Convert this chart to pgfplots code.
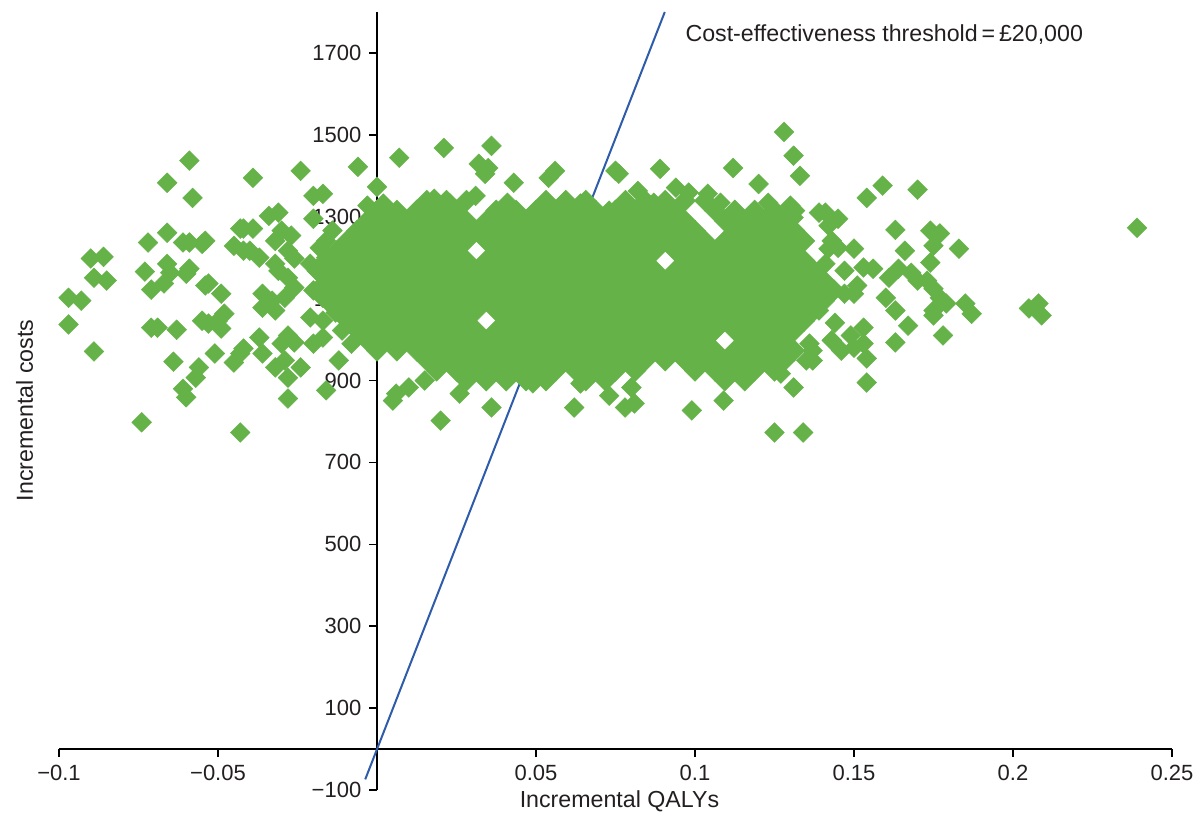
\documentclass[border=0pt]{standalone}
\usepackage{fontspec}
\setmainfont{Liberation Sans}
\usepackage{pgfplots}
\pgfplotsset{compat=1.18}
\definecolor{ptgreen}{RGB}{100,178,72}
\definecolor{lineblue}{RGB}{46,92,170}
\definecolor{txt}{RGB}{35,31,32}
\begin{document}
\fontsize{11bp}{13bp}\selectfont
\begin{tikzpicture}
\begin{axis}[name=ax, scale only axis, width=556.5bp, height=389bp,
 xmin=-0.1, xmax=0.25, ymin=-100, ymax=1800,
 axis lines=middle, axis line style={-, line width=0.8bp, black},
 xtick={-0.1,-0.05,0,0.05,0.1,0.15,0.2,0.25},
 xticklabels={−0.1,−0.05,0,0.05,0.1,0.15,0.2,0.25},
 ytick={-100,100,300,500,700,900,1100,1300,1500,1700},
 yticklabels={−100,100,300,500,700,900,1100,1300,1500,1700},
 tick align=outside, major tick length=4bp, tick style={line width=0.8bp, black},
 ticklabel style={font=\fontsize{11bp}{13bp}\selectfont, text=txt},
 xlabel={Incremental QALYs}, ylabel={Incremental costs},
 xlabel style={at={(axis description cs:0.5036,-0.0231)}, anchor=base, font=\fontsize{11.6bp}{13bp}\selectfont, text=txt},
 ylabel style={at={(axis description cs:-0.0234,0.488)}, anchor=base, rotate=90, font=\fontsize{11.6bp}{13bp}\selectfont, text=txt},
 clip=false]
% dense core, read row by row
\addplot[only marks, mark=square*, mark size=3.75bp, mark options={rotate=45, fill=ptgreen, draw=ptgreen, line width=0.2bp}] coordinates {
(0.015625,1339)(0.021875,1339)(0.028125,1339)(0.053125,1339)(0.059375,1339)(0.065625,1339)(0.078125,1339)(0.084375,1339)(0.090625,1339)(0.096875,1339)(0.103125,1339)
(0,1315)(0.00625,1315)(0.0125,1315)(0.01875,1315)(0.025,1315)(0.0375,1315)(0.04375,1315)(0.05,1315)(0.05625,1315)(0.0625,1315)(0.06875,1315)(0.075,1315)(0.08125,1315)(0.0875,1315)(0.09375,1315)(0.10625,1315)(0.1125,1315)(0.11875,1315)(0.125,1315)(0.13125,1315)
(-0.003125,1290)(0.003125,1290)(0.009375,1290)(0.015625,1290)(0.021875,1290)(0.028125,1290)(0.034375,1290)(0.040625,1290)(0.046875,1290)(0.053125,1290)(0.059375,1290)(0.065625,1290)(0.071875,1290)(0.078125,1290)(0.084375,1290)(0.090625,1290)(0.096875,1290)(0.109375,1290)(0.115625,1290)(0.121875,1290)(0.128125,1290)
(-0.00625,1266)(0,1266)(0.00625,1266)(0.0125,1266)(0.01875,1266)(0.025,1266)(0.03125,1266)(0.0375,1266)(0.04375,1266)(0.05,1266)(0.05625,1266)(0.0625,1266)(0.06875,1266)(0.075,1266)(0.08125,1266)(0.0875,1266)(0.09375,1266)(0.1,1266)(0.1125,1266)(0.11875,1266)(0.125,1266)(0.13125,1266)
(-0.009375,1241)(-0.003125,1241)(0.003125,1241)(0.009375,1241)(0.015625,1241)(0.021875,1241)(0.028125,1241)(0.034375,1241)(0.040625,1241)(0.046875,1241)(0.053125,1241)(0.059375,1241)(0.065625,1241)(0.071875,1241)(0.078125,1241)(0.084375,1241)(0.090625,1241)(0.096875,1241)(0.103125,1241)(0.109375,1241)(0.115625,1241)(0.121875,1241)(0.128125,1241)(0.134375,1241)
(-0.0125,1217)(-0.00625,1217)(0,1217)(0.00625,1217)(0.0125,1217)(0.01875,1217)(0.025,1217)(0.0375,1217)(0.04375,1217)(0.05,1217)(0.05625,1217)(0.0625,1217)(0.06875,1217)(0.075,1217)(0.08125,1217)(0.0875,1217)(0.09375,1217)(0.1,1217)(0.10625,1217)(0.1125,1217)(0.11875,1217)(0.125,1217)(0.13125,1217)
(-0.015625,1193)(-0.009375,1193)(-0.003125,1193)(0.003125,1193)(0.009375,1193)(0.015625,1193)(0.021875,1193)(0.028125,1193)(0.034375,1193)(0.040625,1193)(0.046875,1193)(0.053125,1193)(0.059375,1193)(0.065625,1193)(0.071875,1193)(0.078125,1193)(0.084375,1193)(0.096875,1193)(0.103125,1193)(0.109375,1193)(0.115625,1193)(0.121875,1193)(0.128125,1193)(0.134375,1193)
(-0.01875,1168)(-0.0125,1168)(-0.00625,1168)(0,1168)(0.00625,1168)(0.0125,1168)(0.01875,1168)(0.025,1168)(0.03125,1168)(0.0375,1168)(0.04375,1168)(0.05,1168)(0.05625,1168)(0.0625,1168)(0.06875,1168)(0.075,1168)(0.08125,1168)(0.0875,1168)(0.09375,1168)(0.1,1168)(0.10625,1168)(0.1125,1168)(0.11875,1168)(0.125,1168)(0.13125,1168)(0.1375,1168)
(-0.015625,1144)(-0.009375,1144)(-0.003125,1144)(0.003125,1144)(0.009375,1144)(0.015625,1144)(0.021875,1144)(0.028125,1144)(0.034375,1144)(0.040625,1144)(0.046875,1144)(0.053125,1144)(0.059375,1144)(0.065625,1144)(0.071875,1144)(0.078125,1144)(0.084375,1144)(0.090625,1144)(0.096875,1144)(0.103125,1144)(0.109375,1144)(0.115625,1144)(0.121875,1144)(0.128125,1144)(0.134375,1144)(0.140625,1144)
(-0.01875,1120)(-0.0125,1120)(-0.00625,1120)(0,1120)(0.00625,1120)(0.0125,1120)(0.01875,1120)(0.025,1120)(0.03125,1120)(0.0375,1120)(0.04375,1120)(0.05,1120)(0.05625,1120)(0.0625,1120)(0.06875,1120)(0.075,1120)(0.08125,1120)(0.0875,1120)(0.09375,1120)(0.1,1120)(0.10625,1120)(0.1125,1120)(0.11875,1120)(0.125,1120)(0.13125,1120)(0.1375,1120)(0.14375,1120)
(-0.015625,1095)(-0.009375,1095)(-0.003125,1095)(0.003125,1095)(0.009375,1095)(0.015625,1095)(0.021875,1095)(0.028125,1095)(0.034375,1095)(0.040625,1095)(0.046875,1095)(0.053125,1095)(0.059375,1095)(0.065625,1095)(0.071875,1095)(0.078125,1095)(0.084375,1095)(0.090625,1095)(0.096875,1095)(0.103125,1095)(0.109375,1095)(0.115625,1095)(0.121875,1095)(0.128125,1095)(0.134375,1095)(0.140625,1095)
(-0.0125,1071)(-0.00625,1071)(0,1071)(0.00625,1071)(0.0125,1071)(0.01875,1071)(0.025,1071)(0.03125,1071)(0.0375,1071)(0.04375,1071)(0.05,1071)(0.05625,1071)(0.0625,1071)(0.06875,1071)(0.075,1071)(0.08125,1071)(0.0875,1071)(0.09375,1071)(0.1,1071)(0.10625,1071)(0.1125,1071)(0.11875,1071)(0.125,1071)(0.13125,1071)(0.1375,1071)
(-0.009375,1046)(-0.003125,1046)(0.003125,1046)(0.009375,1046)(0.015625,1046)(0.021875,1046)(0.028125,1046)(0.040625,1046)(0.046875,1046)(0.053125,1046)(0.059375,1046)(0.065625,1046)(0.071875,1046)(0.078125,1046)(0.084375,1046)(0.090625,1046)(0.096875,1046)(0.103125,1046)(0.109375,1046)(0.115625,1046)(0.121875,1046)(0.128125,1046)(0.134375,1046)
(-0.00625,1022)(0,1022)(0.00625,1022)(0.0125,1022)(0.01875,1022)(0.025,1022)(0.03125,1022)(0.0375,1022)(0.04375,1022)(0.05,1022)(0.05625,1022)(0.0625,1022)(0.06875,1022)(0.075,1022)(0.08125,1022)(0.0875,1022)(0.09375,1022)(0.1,1022)(0.10625,1022)(0.1125,1022)(0.11875,1022)(0.125,1022)(0.13125,1022)
(-0.003125,998)(0.003125,998)(0.009375,998)(0.015625,998)(0.021875,998)(0.028125,998)(0.034375,998)(0.040625,998)(0.046875,998)(0.053125,998)(0.059375,998)(0.065625,998)(0.071875,998)(0.078125,998)(0.084375,998)(0.090625,998)(0.096875,998)(0.103125,998)(0.115625,998)(0.121875,998)(0.128125,998)
(0,973)(0.00625,973)(0.0125,973)(0.01875,973)(0.025,973)(0.03125,973)(0.0375,973)(0.04375,973)(0.05,973)(0.05625,973)(0.0625,973)(0.06875,973)(0.075,973)(0.08125,973)(0.0875,973)(0.09375,973)(0.1,973)(0.10625,973)(0.1125,973)(0.11875,973)(0.125,973)(0.13125,973)
(0.015625,949)(0.021875,949)(0.028125,949)(0.034375,949)(0.040625,949)(0.046875,949)(0.053125,949)(0.059375,949)(0.065625,949)(0.071875,949)(0.078125,949)(0.084375,949)(0.090625,949)(0.096875,949)(0.103125,949)(0.109375,949)(0.115625,949)(0.121875,949)(0.128125,949)
(0.01875,924)(0.025,924)(0.03125,924)(0.0375,924)(0.04375,924)(0.05,924)(0.05625,924)(0.0625,924)(0.06875,924)(0.075,924)(0.08125,924)(0.1,924)(0.10625,924)(0.1125,924)(0.11875,924)(0.125,924)
(0.028125,900)(0.034375,900)(0.040625,900)(0.046875,900)(0.053125,900)(0.065625,900)(0.071875,900)(0.109375,900)(0.115625,900)
};
% individually read points
\addplot[only marks, mark=square*, mark size=3.5bp, mark options={rotate=45, fill=ptgreen, draw=ptgreen, line width=0.2bp}] coordinates {
(-0.059,1437)(-0.066,1383)(-0.058,1346)(-0.043,1271)(-0.042,1271)(-0.066,1261)(-0.072,1237)(-0.061,1237)(-0.059,1237)(-0.054,1241)
(-0.055,1234)(-0.045,1229)(-0.042,1217)(-0.090,1198)(-0.086,1202)(-0.089,1151)(-0.085,1144)(-0.073,1166)(-0.066,1185)(-0.065,1163)
(-0.059,1173)(-0.060,1161)(-0.071,1122)(-0.067,1137)(-0.054,1132)(-0.053,1137)(-0.049,1112)(-0.097,1102)(-0.093,1095)(-0.097,1037)
(-0.071,1029)(-0.069,1029)(-0.063,1024)(-0.055,1046)(-0.053,1039)(-0.050,1046)(-0.048,1063)(-0.049,1027)(-0.089,971)(-0.064,946)
(-0.056,932)(-0.057,907)(-0.051,966)(-0.045,944)(-0.042,978)(-0.061,880)(-0.060,859)(-0.074,798)(-0.043,773)
(-0.039,1395)(-0.024,1412)(-0.006,1422)(0.007,1444)(0.021,1468)(0.000,1373)(-0.020,1351)(-0.017,1356)(-0.031,1310)(-0.034,1302)
(-0.020,1295)(-0.003,1327)(0.002,1332)(0.018,1344)(-0.039,1271)(-0.030,1266)(-0.027,1254)(-0.032,1241)(-0.028,1217)(-0.014,1266)
(-0.016,1241)(-0.009,1234)(-0.040,1217)(-0.037,1200)(-0.018,1224)(-0.021,1185)(-0.016,1200)(-0.019,1173)(-0.012,1205)(-0.011,1176)
(-0.026,1198)(-0.032,1185)(-0.031,1168)(-0.028,1151)(-0.026,1127)(-0.029,1102)(-0.036,1112)(-0.033,1095)(-0.036,1078)(-0.032,1071)
(-0.020,1120)(-0.017,1102)(-0.021,1054)(-0.017,1046)(-0.013,1066)(-0.043,966)(-0.037,1005)(-0.036,966)(-0.028,1010)(-0.030,990)
(-0.026,993)(-0.020,990)(-0.017,1005)(-0.011,1022)(-0.008,990)(-0.032,932)(-0.028,907)(-0.024,932)(-0.029,949)(-0.012,949)
(-0.016,876)(-0.028,856)(0.006,868)(0.005,851)(0.010,883)(0.015,900)(0.020,802)
(0.036,1473)(0.034,1405)(0.035,1419)(0.032,1429)(0.043,1383)(0.056,1412)(0.054,1395)(0.075,1412)(0.076,1405)(0.031,1351)
(0.041,1334)(0.023,1332)(0.064,1332)(0.073,1315)(0.062,834)(0.036,834)(0.073,863)(0.026,868)(0.049,893)(0.078,834)(0.064,893)
(0.131,1449)(0.133,1400)(0.112,1419)(0.089,1417)(0.120,1380)(0.082,1363)(0.087,1334)(0.094,1371)(0.098,1359)(0.104,1356)
(0.108,1334)(0.123,1334)(0.130,1327)(0.131,1298)(0.139,1310)(0.136,990)(0.135,949)(0.127,917)(0.131,883)(0.080,883)
(0.081,844)(0.099,827)(0.109,851)(0.125,773)(0.134,773)
(0.159,1376)(0.154,1346)(0.170,1366)(0.141,1310)(0.145,1295)(0.142,1278)(0.163,1268)(0.174,1266)(0.177,1259)(0.175,1229)
(0.183,1222)(0.143,1241)(0.145,1224)(0.142,1222)(0.150,1222)(0.166,1217)(0.141,1185)(0.147,1168)(0.153,1176)(0.156,1173)
(0.174,1188)(0.164,1173)(0.161,1151)(0.168,1163)(0.170,1144)(0.151,1132)(0.150,1112)(0.137,1127)(0.141,1112)(0.139,1071)
(0.147,1112)(0.160,1102)(0.163,1071)(0.173,1144)(0.175,1124)(0.177,1102)(0.179,1088)(0.185,1088)(0.187,1063)(0.175,1071)
(0.175,1059)(0.144,1041)(0.167,1034)(0.178,1010)(0.153,1029)(0.149,1010)(0.143,998)(0.146,973)(0.150,980)(0.153,990)
(0.154,954)(0.163,993)(0.137,973)(0.137,949)(0.154,895)
(0.239,1273)(0.205,1076)(0.208,1088)(0.209,1059)(0.128,1507)
};
% threshold line
\addplot[lineblue, line width=1bp] coordinates {(-0.0037,-74) (0.0905,1800)};
\node[anchor=base west, inner sep=0pt, text=txt, font=\fontsize{11.6bp}{13bp}\selectfont] at (axis cs:0.0969,1729) {Cost-effectiveness threshold\,=\,£20,000};
\end{axis}
\pgfresetboundingbox
\path ([xshift=-29.5bp,yshift=-15.5bp]ax.south west) rectangle ([xshift=15.5bp,yshift=6bp]ax.north east);
\end{tikzpicture}
\end{document}
